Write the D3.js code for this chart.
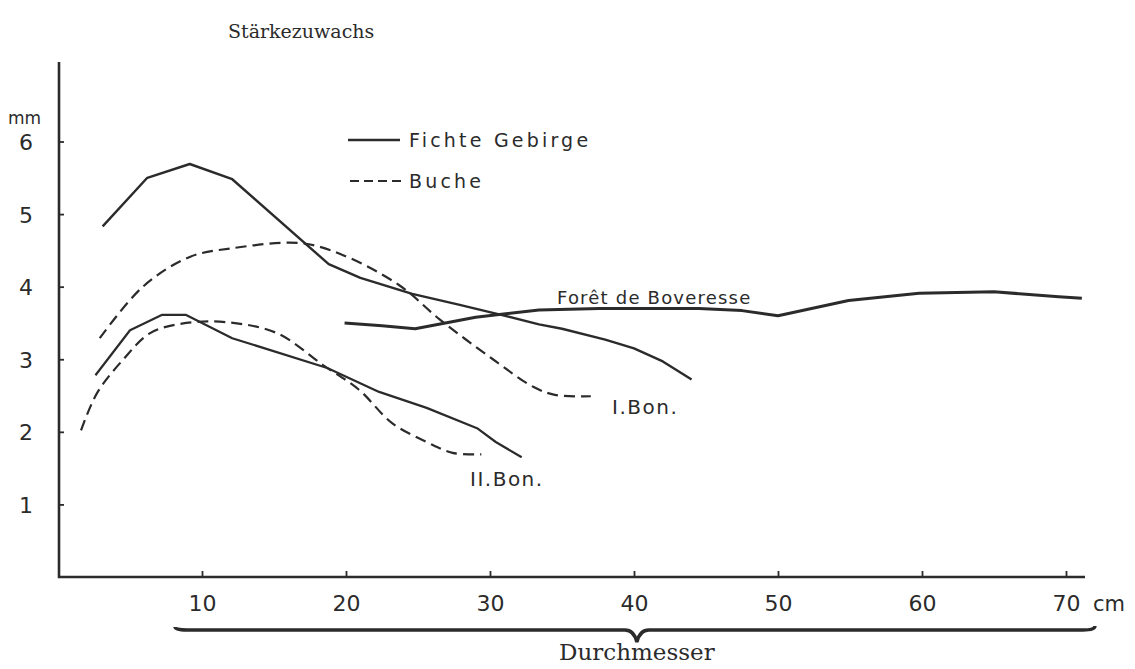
<!DOCTYPE html>
<html>
<head>
<meta charset="utf-8">
<script src="https://cdn.jsdelivr.net/npm/d3@7"></script>
<style>
  body { margin: 0; background: #fff; }
  svg text { fill: #2b2b2b; }
  .tick text { font-family: "DejaVu Sans", sans-serif; font-size: 22px; }
  .lbl { font-family: "DejaVu Sans", sans-serif; font-size: 19px; letter-spacing: 3.2px; }
  .frak { font-family: "DejaVu Serif", serif; }
</style>
</head>
<body>
<svg id="chart" width="1135" height="669"></svg>
<script>
const xTicks = [10, 20, 30, 40, 50, 60, 70];
const yTicks = [1, 2, 3, 4, 5, 6];

// Fichte Gebirge I. Bon (solid, upper)
const fichte1X = [3.1, 6.2, 9.15, 12.1, 18.8, 21, 24.6, 27.9, 30.2, 33.4, 35, 38, 40, 42, 44];
const fichte1Y = [4.83, 5.5, 5.69, 5.48, 4.31, 4.12, 3.9, 3.75, 3.64, 3.48, 3.42, 3.27, 3.15, 2.97, 2.72];
// Buche I. Bon (dashed, upper)
const buche1X = [2.9, 5.9, 9.15, 12.1, 16.8, 19.6, 23.7, 26.5, 30.2, 33.0, 34.5, 37];
const buche1Y = [3.29, 4.0, 4.41, 4.53, 4.6, 4.45, 4.02, 3.55, 3.0, 2.62, 2.51, 2.49];
// Fichte Gebirge II. Bon (solid, lower)
const fichte2X = [2.6, 5.0, 7.2, 8.9, 12.1, 18.7, 22.3, 25.6, 29.1, 30.4, 32.2];
const fichte2Y = [2.78, 3.4, 3.61, 3.61, 3.29, 2.88, 2.55, 2.33, 2.05, 1.86, 1.65];
// Buche II. Bon (dashed, lower)
const buche2X = [1.6, 2.7, 4.5, 6.4, 8.9, 11.7, 15.2, 18.4, 20.9, 23.2, 25.6, 27.4, 29.4];
const buche2Y = [2.02, 2.53, 2.99, 3.36, 3.5, 3.51, 3.36, 2.92, 2.58, 2.12, 1.86, 1.71, 1.69];
// Forêt de Boveresse
const foretX = [19.9, 22.5, 24.8, 29, 33.4, 37.6, 44.5, 47.5, 50, 54.9, 59.8, 65, 69.5, 71.1];
const foretY = [3.5, 3.46, 3.42, 3.58, 3.68, 3.7, 3.7, 3.67, 3.6, 3.81, 3.91, 3.93, 3.86, 3.84];

const svg = d3.select('#chart');
const ink = '#2b2b2b';

const x = d3.scaleLinear().domain([0, 70]).range([58, 1066]);
const y = d3.scaleLinear().domain([0, 6]).range([577, 141.5]);

// axes frame
svg.append('path')
    .attr('d', 'M' + 59 + ',' + 62 + 'V' + y(0) + 'H' + 1085)
    .attr('stroke', ink)
    .attr('stroke-width', 2.6)
    .attr('fill', 'none');

const yAxis = svg.append('g')
    .attr('transform', 'translate(59,0)')
    .call(d3.axisLeft(y).tickValues(yTicks).tickSize(-5).tickPadding(26).tickFormat(d3.format('d')));
const xAxis = svg.append('g')
    .attr('transform', 'translate(0,' + y(0) + ')')
    .call(d3.axisBottom(x).tickValues(xTicks).tickSize(-6).tickPadding(18).tickFormat(d3.format('d')));
[yAxis, xAxis].forEach(g => {
    g.select('.domain').remove();
    g.selectAll('.tick line').attr('stroke', ink).attr('stroke-width', 1.8);
    g.selectAll('.tick text').attr('fill', ink);
});
yAxis.selectAll('.tick text').attr('dy', '0.36em');

svg.append('text').attr('class', 'lbl').attr('x', 8).attr('y', 124).style('font-size', '17px').style('letter-spacing', '0px').text('mm');
svg.append('text').attr('class', 'lbl').attr('x', 1093).attr('y', 611).style('font-size', '21px').style('letter-spacing', '0px').text('cm');

function series(xs, ys) {
    return xs.map((d, i) => ({ x: d, y: ys[i] }));
}
const lineLin = d3.line().x(d => x(d.x)).y(d => y(d.y));
const lineSmooth = d3.line().x(d => x(d.x)).y(d => y(d.y)).curve(d3.curveCatmullRom);

function draw(data, gen, width, dash) {
    svg.append('path')
        .attr('d', gen(data))
        .attr('stroke', ink)
        .attr('stroke-width', width)
        .attr('fill', 'none')
        .attr('stroke-linejoin', 'round')
        .style('stroke-dasharray', dash || null);
}

draw(series(fichte1X, fichte1Y), lineLin, 2.4);
draw(series(fichte2X, fichte2Y), lineLin, 2.2);
draw(series(buche1X, buche1Y), lineSmooth, 2.2, '11,6');
draw(series(buche2X, buche2Y), lineSmooth, 2.2, '11,6');
draw(series(foretX, foretY), lineLin, 3);

// curve labels
svg.append('text').attr('class', 'lbl').attr('x', 557).attr('y', 304).style('font-size', '18px').style('letter-spacing', '1.2px').text('Forêt de Boveresse');
svg.append('text').attr('class', 'lbl').attr('x', 612).attr('y', 414).style('font-size', '20px').style('letter-spacing', '1.5px').text('I.Bon.');
svg.append('text').attr('class', 'lbl').attr('x', 470).attr('y', 486).style('font-size', '20px').style('letter-spacing', '1.5px').text('II.Bon.');

// legend
svg.append('line').attr('x1', 348).attr('x2', 400).attr('y1', 140).attr('y2', 140)
    .attr('stroke', ink).attr('stroke-width', 2.4);
svg.append('line').attr('x1', 350).attr('x2', 402).attr('y1', 181).attr('y2', 181)
    .attr('stroke', ink).attr('stroke-width', 2.2).style('stroke-dasharray', '9,5');
svg.append('text').attr('class', 'lbl').attr('x', 409).attr('y', 147).text('Fichte  Gebirge');
svg.append('text').attr('class', 'lbl').attr('x', 409).attr('y', 188).text('Buche');

// titles
svg.append('text').attr('class', 'frak').attr('x', 228).attr('y', 38)
    .style('font-size', '19px').text('Stärkezuwachs');

// brace under the x axis
const bx0 = 175, bx1 = 1095, by = 630, bmid = x(40.2);
svg.append('path')
    .attr('d', 'M' + bx0 + ',' + (by - 3) + 'Q' + bx0 + ',' + by + ' ' + (bx0 + 12) + ',' + by +
        'L' + (bmid - 12) + ',' + by + 'Q' + (bmid - 3) + ',' + by + ' ' + bmid + ',' + (by + 12) +
        'Q' + (bmid + 3) + ',' + by + ' ' + (bmid + 12) + ',' + by +
        'L' + (bx1 - 12) + ',' + by + 'Q' + bx1 + ',' + by + ' ' + bx1 + ',' + (by - 4))
    .attr('stroke', ink)
    .attr('stroke-width', 3.4)
    .attr('fill', 'none');
svg.append('text').attr('class', 'frak').attr('x', bmid).attr('y', 660)
    .attr('text-anchor', 'middle').style('font-size', '23px').text('Durchmesser');
</script>
</body>
</html>
